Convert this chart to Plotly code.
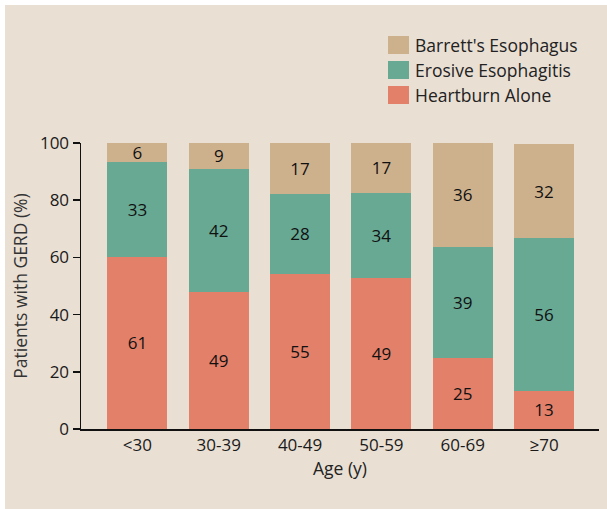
import plotly.graph_objects as go

# ---- data ----
age_groups = ["<30", "30-39", "40-49", "50-59", "60-69", "≥70"]
# printed labels (%)
heartburn_labels = [61, 49, 55, 49, 25, 13]
erosive_labels = [33, 42, 28, 34, 39, 56]
barretts_labels = [6, 9, 17, 17, 36, 32]
# segment heights as drawn in the picture (%)
heartburn_heights = [60.2, 48.0, 54.2, 52.8, 24.8, 13.3]
erosive_heights = [33.2, 43.0, 28.0, 29.7, 38.8, 53.5]
barretts_heights = [6.6, 9.3, 17.8, 17.8, 36.7, 32.8]
y_ticks = [0, 20, 40, 60, 80, 100]

series = [
    ("Heartburn Alone", heartburn_heights, heartburn_labels, "#e3806a"),
    ("Erosive Esophagitis", erosive_heights, erosive_labels, "#67a993"),
    ("Barrett's Esophagus", barretts_heights, barretts_labels, "#cdb08c"),
]

BG = "#e9dfd3"
FONT = "Open Sans"

W, H = 607, 509
L, R, T, B = 81, 8, 143, 80
PW, PH = W - L - R, H - T - B


def px_x(x):
    return (x - L) / PW


def px_y(y):
    return (H - B - y) / PH


fig = go.Figure()
for name, heights, labels, color in series:
    fig.add_trace(go.Bar(
        x=age_groups, y=heights, name=name,
        marker=dict(color=color, line=dict(width=0)),
        width=0.737,
        text=[str(v) for v in labels],
        textposition="inside", insidetextanchor="middle",
        textangle=0, constraintext="none",
        textfont=dict(family=FONT, size=17, color="#111111"),
        hoverinfo="skip", showlegend=False,
    ))

shapes = [
    # thin white strips on the top and left edges
    dict(type="rect", xref="paper", yref="paper", layer="below",
         x0=px_x(-5), x1=px_x(W + 5), y0=px_y(-5), y1=px_y(5),
         fillcolor="white", line=dict(width=0)),
    dict(type="rect", xref="paper", yref="paper", layer="below",
         x0=px_x(-5), x1=px_x(5), y0=px_y(-5), y1=px_y(H + 5),
         fillcolor="white", line=dict(width=0)),
]
annotations = []

# manual legend (top to bottom)
legend_items = [("Barrett's Esophagus", "#cdb08c"),
                ("Erosive Esophagitis", "#67a993"),
                ("Heartburn Alone", "#e3806a")]
row_tops = [36, 61, 86]
for (label, color), top in zip(legend_items, row_tops):
    shapes.append(dict(type="rect", xref="paper", yref="paper",
                       x0=px_x(388), x1=px_x(409), y0=px_y(top), y1=px_y(top + 18),
                       fillcolor=color, line=dict(width=0)))
    annotations.append(dict(xref="paper", yref="paper", x=px_x(413), y=px_y(top + 9),
                            text=label, showarrow=False, xanchor="left", yanchor="middle",
                            font=dict(family=FONT, size=17.5, color="#222222")))

fig.update_layout(
    width=W, height=H,
    margin=dict(l=L, r=R, t=T, b=B, pad=0),
    paper_bgcolor=BG, plot_bgcolor="rgba(0,0,0,0)",
    barmode="stack",
    font=dict(family=FONT, color="#1a1a1a"),
    shapes=shapes, annotations=annotations,
    xaxis=dict(range=[-0.694, 5.676], showline=True, linecolor="#111111", linewidth=1.5,
               ticks="", showgrid=False, zeroline=False,
               tickfont=dict(family=FONT, size=17, color="#1a1a1a"),
               title=dict(text="Age (y)", font=dict(family=FONT, size=17.5, color="#222222"),
                          standoff=4)),
    yaxis=dict(range=[0, 100], tickvals=y_ticks, showline=True, linecolor="#111111",
               linewidth=1.5, ticks="outside", ticklen=7, tickwidth=1.5, tickcolor="#111111",
               showgrid=False, zeroline=False,
               tickfont=dict(family=FONT, size=17, color="#1a1a1a"),
               title=dict(text="Patients with GERD (%)",
                          font=dict(family=FONT, size=17.5, color="#333333"), standoff=8)),
)

fig.write_html("out.html",
               config={"displayModeBar": False, "staticPlot": True},
               post_script=("document.body.style.margin='0';document.body.style.padding='0';"
                            "document.body.style.background='" + BG + "';"))
